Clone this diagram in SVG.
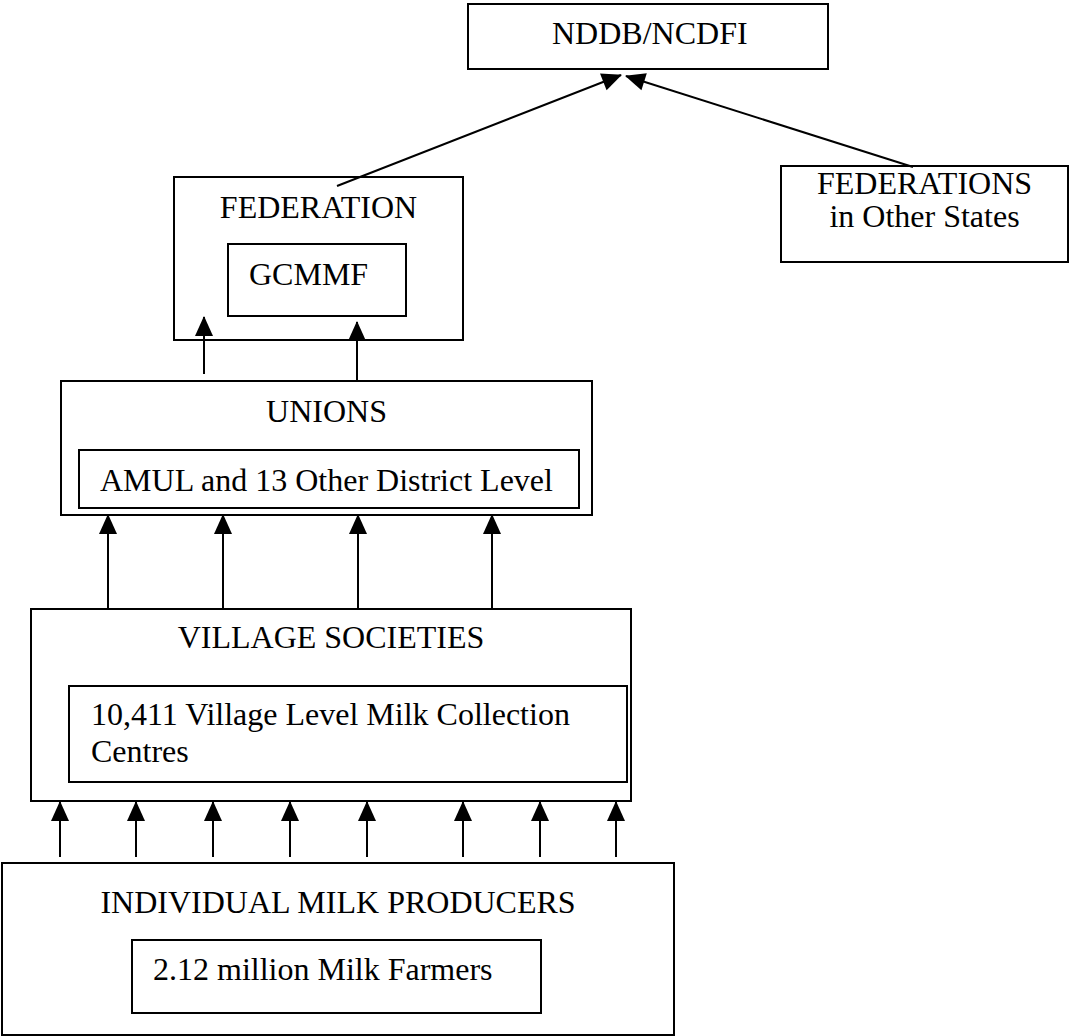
<svg xmlns="http://www.w3.org/2000/svg" width="1069" height="1036" viewBox="0 0 1069 1036">
<style>
.box{fill:#fff;stroke:#000;stroke-width:2}
.in{fill:none;stroke:#000;stroke-width:2}
.t{font-family:"Liberation Serif","Times New Roman",serif;font-size:32px;fill:#000}
.c{text-anchor:middle}
.ln{stroke:#000;stroke-width:2;fill:none;marker-end:url(#ah)}
</style>
<defs>
<marker id="ah" markerUnits="userSpaceOnUse" markerWidth="22" markerHeight="20" viewBox="0 -10 20 20" refX="19" refY="0" orient="auto">
<path d="M0,-9 L20,0 L0,9 z" fill="#000"/>
</marker>
</defs>
<rect width="1069" height="1036" fill="#fff"/>
<g id="nddb">
<rect class="box" x="468" y="4" width="360" height="65"/>
<text class="t" x="552" y="44">NDDB/NCDFI</text>
</g>
<g id="federation">
<rect class="box" x="174" y="177" width="289" height="163"/>
<text class="t c" x="318.5" y="218">FEDERATION</text>
<rect class="in" x="228" y="244" width="178" height="72"/>
<text class="t" x="249" y="285">GCMMF</text>
</g>
<g id="federations-other">
<rect class="box" x="781" y="166" width="287" height="96"/>
<text class="t c" x="924.5" y="194">FEDERATIONS</text>
<text class="t c" x="924.5" y="227">in Other States</text>
</g>
<g id="unions">
<rect class="box" x="61" y="381" width="531" height="134"/>
<text class="t c" x="326.5" y="422">UNIONS</text>
<rect class="in" x="79" y="450" width="500" height="58"/>
<text class="t" x="100" y="491">AMUL and 13 Other District Level</text>
</g>
<g id="village">
<rect class="box" x="31" y="609" width="600" height="192"/>
<text class="t c" x="331" y="648">VILLAGE SOCIETIES</text>
<rect class="in" x="69" y="686" width="558" height="96"/>
<text class="t" x="91" y="725">10,411 Village Level Milk Collection</text>
<text class="t" x="91" y="762">Centres</text>
</g>
<g id="producers">
<rect class="box" x="2" y="863" width="672" height="172"/>
<text class="t c" x="338" y="913">INDIVIDUAL MILK PRODUCERS</text>
<rect class="in" x="132" y="940" width="409" height="73"/>
<text class="t" x="153" y="980">2.12 million Milk Farmers</text>
</g>
<g id="connectors">
<line class="ln" x1="337" y1="186" x2="621" y2="75"/>
<line class="ln" x1="913" y1="167" x2="626" y2="76"/>
<line class="ln" x1="204" y1="374" x2="204" y2="317"/>
<line class="ln" x1="357" y1="381" x2="357" y2="322"/>
<line class="ln" x1="108" y1="609" x2="108" y2="515"/>
<line class="ln" x1="223" y1="609" x2="223" y2="515"/>
<line class="ln" x1="358" y1="609" x2="358" y2="515"/>
<line class="ln" x1="492" y1="609" x2="492" y2="515"/>
<line class="ln" x1="60" y1="857" x2="60" y2="802"/>
<line class="ln" x1="136" y1="857" x2="136" y2="802"/>
<line class="ln" x1="213" y1="857" x2="213" y2="802"/>
<line class="ln" x1="290" y1="857" x2="290" y2="802"/>
<line class="ln" x1="367" y1="857" x2="367" y2="802"/>
<line class="ln" x1="463" y1="857" x2="463" y2="802"/>
<line class="ln" x1="540" y1="857" x2="540" y2="802"/>
<line class="ln" x1="616" y1="857" x2="616" y2="802"/>
</g>
</svg>
